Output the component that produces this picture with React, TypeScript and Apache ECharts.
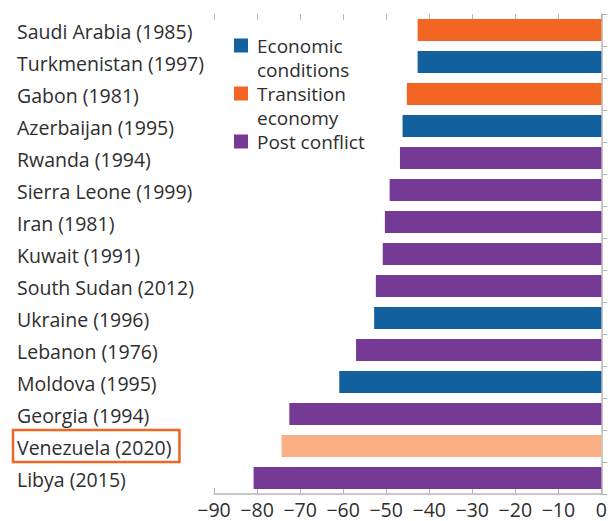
import React, { useEffect, useRef } from "react";
import * as echarts from "echarts";

const categories = [
  "Saudi Arabia (1985)",
  "Turkmenistan (1997)",
  "Gabon (1981)",
  "Azerbaijan (1995)",
  "Rwanda (1994)",
  "Sierra Leone (1999)",
  "Iran (1981)",
  "Kuwait (1991)",
  "South Sudan (2012)",
  "Ukraine (1996)",
  "Lebanon (1976)",
  "Moldova (1995)",
  "Georgia (1994)",
  "Venezuela (2020)",
  "Libya (2015)",
];
const values = [-42.7, -42.7, -45.2, -46.2, -46.8, -49.2, -50.3, -50.8, -52.4, -52.8, -57.0, -60.9, -72.5, -74.3, -80.8];
const types = [
  "Transition economy",
  "Economic conditions",
  "Transition economy",
  "Economic conditions",
  "Post conflict",
  "Post conflict",
  "Post conflict",
  "Post conflict",
  "Post conflict",
  "Economic conditions",
  "Post conflict",
  "Economic conditions",
  "Post conflict",
  "Highlight",
  "Post conflict",
];
const highlighted = "Venezuela (2020)";
const legendItems = ["Economic\nconditions", "Transition\neconomy", "Post conflict"];
const legendKeys = ["Economic conditions", "Transition economy", "Post conflict"];
const colors: Record<string, string> = {
  "Economic conditions": "#13609F",
  "Transition economy": "#F26522",
  "Post conflict": "#743A96",
  Highlight: "#F9AE84",
};

const FONT = "'Open Sans'";
const FS = 19.5;
const LEGEND_FS = 19;
const TEXT = "#2e2e2e";

export default function App() {
  const ref = useRef<HTMLDivElement>(null);
  useEffect(() => {
    if (!ref.current) return;
    const chart = echarts.init(ref.current, null, { renderer: "svg" });
    const legendGraphics: any[] = [];
    let yOff = 0;
    legendItems.forEach((name, i) => {
      const lines = name.split("\n");
      legendGraphics.push({
        type: "rect",
        shape: { x: 0, y: yOff + 3, width: 14, height: 14 },
        style: { fill: colors[legendKeys[i]] },
      });
      lines.forEach((line, j) => {
        legendGraphics.push({
          type: "text",
          x: 23,
          y: yOff + j * 24 + 10,
          style: {
            text: line,
            font: `${LEGEND_FS}px ${FONT}`,
            fill: TEXT,
            verticalAlign: "middle",
          },
        });
      });
      yOff += lines.length * 24;
    });
    const tickStyle = { color: "#b5b5b5", width: 1 };
    chart.setOption({
      animation: false,
      textStyle: { fontFamily: FONT },
      grid: { left: 214, right: 6, top: 14, bottom: 27, containLabel: false },
      xAxis: [
        {
          type: "value",
          min: -90,
          max: 0,
          interval: 10,
          position: "bottom",
          axisLine: { show: true, lineStyle: { color: "#b5b5b5", width: 1.5 } },
          axisTick: { show: true, inside: true, length: 6, lineStyle: tickStyle },
          axisLabel: {
            fontSize: FS,
            color: TEXT,
            margin: 5,
            fontFamily: FONT,
            showMinLabel: true,
            showMaxLabel: true,
            hideOverlap: false,
            formatter: (v: number) => (v < 0 ? "\u2212" + Math.abs(v) : String(v)),
          },
          splitLine: { show: false },
        },
        {
          type: "value",
          min: -90,
          max: 0,
          interval: 10,
          position: "top",
          axisLine: { show: false },
          axisTick: { show: true, inside: true, length: 6, lineStyle: tickStyle },
          axisLabel: { show: false },
          splitLine: { show: false },
        },
      ],
      yAxis: [
        {
          type: "category",
          data: categories,
          inverse: true,
          position: "left",
          axisLine: { show: true, lineStyle: { color: "#b5b5b5", width: 1.5 } },
          axisTick: { show: true, inside: true, length: 6, lineStyle: tickStyle },
          axisLabel: {
            interval: 0,
            showMinLabel: true,
            showMaxLabel: true,
            hideOverlap: false,
            align: "left",
            margin: 201,
            fontSize: FS,
            color: TEXT,
            fontFamily: FONT,
            formatter: (v: string) => (v === highlighted ? `{hl|${v}}` : `{n|${v}}`),
            rich: {
              n: {
                fontSize: FS,
                color: TEXT,
                fontFamily: FONT,
                padding: [7, 8, 5, 4],
                borderWidth: 2,
                borderColor: "transparent",
              },
              hl: {
                fontSize: FS,
                color: TEXT,
                fontFamily: FONT,
                padding: [7, 8, 5, 4],
                borderWidth: 2.5,
                borderColor: "#F26522",
              },
            },
          },
        },
        {
          type: "category",
          data: categories,
          inverse: true,
          position: "right",
          axisLine: { show: true, lineStyle: { color: "#d0d0d0", width: 1 } },
          axisTick: { show: false },
          axisLabel: { show: false },
        },
      ],
      graphic: [
        {
          type: "group",
          left: 234,
          top: 36,
          children: legendGraphics,
        },
      ],
      series: [
        {
          type: "bar",
          xAxisIndex: 0,
          yAxisIndex: 0,
          barWidth: 22,
          data: values.map((v, i) => ({
            value: v,
            itemStyle: { color: colors[types[i]] },
          })),
        },
      ],
    });
    return () => chart.dispose();
  }, []);
  return (
    <div
      ref={ref}
      style={{ position: "absolute", left: 0, top: 0, width: 610, height: 521 }}
    />
  );
}
